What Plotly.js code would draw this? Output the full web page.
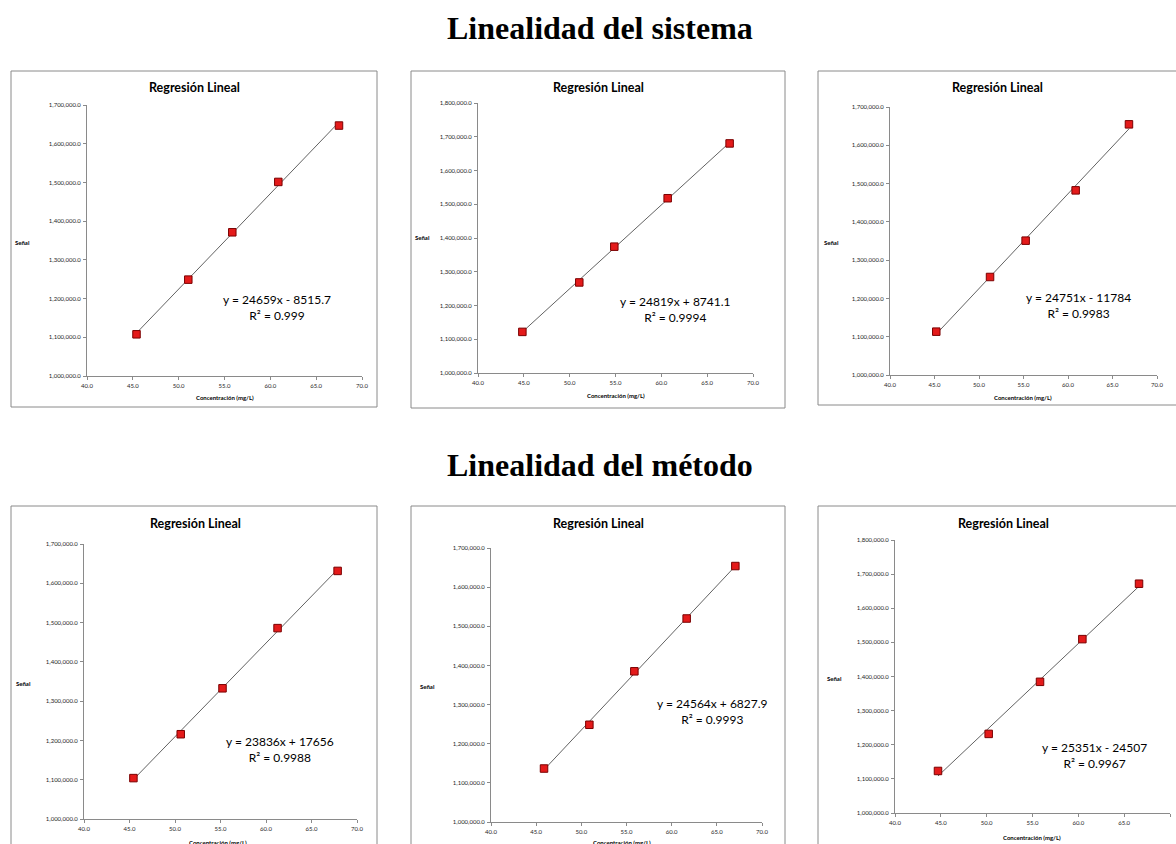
<!DOCTYPE html>
<html>
<head>
<meta charset="utf-8">
<script src="https://cdn.plot.ly/plotly-3.0.1.min.js"></script>
<style>
html,body{margin:0;padding:0;background:#fff;}
#chart{width:1176px;height:844px;}
</style>
</head>
<body>
<div id="chart"></div>
<script>
// ---- Data ----
const sistemaTitulo = "Linealidad del sistema";
const metodoTitulo = "Linealidad del método";
const tituloGrafico = "Regresión Lineal";
const ejeX = "Concentración (mg/L)";
const ejeY = "Señal";

const sistema1Conc = [45.4, 51.05, 55.85, 60.87, 67.49];
const sistema1Senal = [1107700, 1248900, 1371200, 1501300, 1646900];
const sistema2Conc = [44.84, 51.05, 54.87, 60.69, 67.45];
const sistema2Senal = [1121800, 1268300, 1374300, 1517800, 1680200];
const sistema3Conc = [45.2, 51.24, 55.24, 60.86, 66.85];
const sistema3Senal = [1113200, 1256000, 1350900, 1482300, 1654700];

const metodo1Conc = [45.43, 50.63, 55.22, 61.27, 67.87];
const metodo1Senal = [1104100, 1215800, 1332700, 1485900, 1631500];
const metodo2Conc = [45.87, 50.89, 55.87, 61.66, 67.05];
const metodo2Senal = [1136600, 1248400, 1385000, 1519900, 1653900];
const metodo3Conc = [44.69, 50.22, 55.82, 60.44, 66.62];
const metodo3Senal = [1123200, 1231800, 1384400, 1509500, 1671900];

const pendientes = [24659, 24819, 24751, 23836, 24564, 25351];
const interceptos = [-8515.7, 8741.1, -11784, 17656, 6827.9, -24507];
const r2 = ["0.999", "0.9994", "0.9983", "0.9988", "0.9993", "0.9967"];
const yMax = [1700000, 1800000, 1700000, 1700000, 1700000, 1800000];

// ---- Layout geometry (pixels) ----
const W = 1176, H = 844;
const px = v => v / W;
const py = v => 1 - v / H;

const panels = [
  {x: sistema1Conc, y: sistema1Senal, plot: [87, 362, 105, 376], box: [11, 377, 71, 407], title: [194, 88], senal: [22, 242], conc: [225, 398], eq: [277, 307]},
  {x: sistema2Conc, y: sistema2Senal, plot: [478, 753, 103, 373], box: [411, 785, 71, 408], title: [598, 88], senal: [422, 238], conc: [616, 395], eq: [675, 310]},
  {x: sistema3Conc, y: sistema3Senal, plot: [890, 1157, 107, 375], box: [818, 1190, 71, 405], title: [997, 88], senal: [831, 243], conc: [1023, 398], eq: [1078, 305]},
  {x: metodo1Conc, y: metodo1Senal, plot: [84, 357, 544, 819], box: [11, 377, 506, 860], title: [195, 523], senal: [24, 683], conc: [218, 842], eq: [280, 749]},
  {x: metodo2Conc, y: metodo2Senal, plot: [491, 762, 548, 822], box: [411, 785, 506, 860], title: [598, 523], senal: [427, 686], conc: [622, 842], eq: [712, 711]},
  {x: metodo3Conc, y: metodo3Senal, plot: [895, 1170, 540, 813], box: [818, 1190, 506, 860], title: [1004, 523], senal: [834, 678], conc: [1032, 837], eq: [1094, 755]}
];

const FONT = "Lato, 'Open Sans', sans-serif";
const traces = [];
const layout = {
  width: W, height: H,
  margin: {l: 0, r: 0, t: 0, b: 0},
  paper_bgcolor: "#ffffff",
  plot_bgcolor: "rgba(0,0,0,0)",
  showlegend: false,
  shapes: [],
  annotations: []
};

function fmtEq(m, b) {
  const sign = b < 0 ? " - " : " + ";
  return "y = " + m + "x" + sign + Math.abs(b);
}

panels.forEach((p, i) => {
  const n = i + 1;
  const xa = n === 1 ? "x" : "x" + n;
  const ya = n === 1 ? "y" : "y" + n;
  const xmin = Math.min(...p.x), xmax = Math.max(...p.x);
  // trendline
  traces.push({
    x: [xmin, xmax],
    y: [pendientes[i] * xmin + interceptos[i], pendientes[i] * xmax + interceptos[i]],
    xaxis: xa, yaxis: ya, mode: "lines", type: "scatter",
    line: {color: "#3a3a3a", width: 0.8}, hoverinfo: "skip"
  });
  // data points
  traces.push({
    x: p.x, y: p.y, xaxis: xa, yaxis: ya, mode: "markers", type: "scatter",
    marker: {symbol: "square", size: 7.5, color: "#e41a1a", line: {color: "#7a0000", width: 1}}
  });
  const axisCommon = {
    showgrid: false, zeroline: false, showline: true,
    linecolor: "#8a8a8a", linewidth: 1,
    ticks: "outside", ticklen: 3, tickcolor: "#8a8a8a", tickwidth: 1,
    tickfont: {family: FONT, size: 6, color: "#262626"},
    fixedrange: true
  };
  layout["xaxis" + (n === 1 ? "" : n)] = Object.assign({}, axisCommon, {
    domain: [px(p.plot[0]), px(p.plot[1])],
    range: [40, 70], dtick: 5, tick0: 40, tickformat: ".1f",
    anchor: ya, ticklabelstandoff: 1
  });
  layout["yaxis" + (n === 1 ? "" : n)] = Object.assign({}, axisCommon, {
    domain: [py(p.plot[3]), py(p.plot[2])],
    range: [1000000, yMax[i]], dtick: 100000, tick0: 1000000, tickformat: ",.1f",
    anchor: xa, ticklabelstandoff: 1
  });
  // panel border
  layout.shapes.push({
    type: "rect", xref: "paper", yref: "paper",
    x0: px(p.box[0]), x1: px(p.box[1]), y0: py(p.box[3]), y1: py(p.box[2]),
    line: {color: "#8a8a8a", width: 1}, fillcolor: "rgba(0,0,0,0)"
  });
  // title
  layout.annotations.push({
    text: "<b>" + tituloGrafico + "</b>", xref: "paper", yref: "paper",
    x: px(p.title[0]), y: py(p.title[1]), xanchor: "center", yanchor: "middle",
    showarrow: false, font: {family: FONT, size: 12.5, color: "#000"}
  });
  layout.annotations.push({
    text: "<b>" + ejeY + "</b>", xref: "paper", yref: "paper",
    x: px(p.senal[0]), y: py(p.senal[1]), xanchor: "center", yanchor: "middle",
    showarrow: false, font: {family: FONT, size: 6, color: "#000"}
  });
  layout.annotations.push({
    text: "<b>" + ejeX + "</b>", xref: "paper", yref: "paper",
    x: px(p.conc[0]), y: py(p.conc[1]), xanchor: "center", yanchor: "middle",
    showarrow: false, font: {family: FONT, size: 6, color: "#000"}
  });
  layout.annotations.push({
    text: fmtEq(pendientes[i], interceptos[i]) + "<br>R² = " + r2[i],
    xref: "paper", yref: "paper", align: "center",
    x: px(p.eq[0]), y: py(p.eq[1]), xanchor: "center", yanchor: "middle",
    showarrow: false, font: {family: FONT, size: 12, color: "#000"}
  });
});

// section headings
layout.annotations.push({
  text: "<b>" + sistemaTitulo + "</b>", xref: "paper", yref: "paper",
  x: px(600), y: py(28), xanchor: "center", yanchor: "middle", showarrow: false,
  font: {family: "'Liberation Serif', 'Times New Roman', serif", size: 32, color: "#000"}
});
layout.annotations.push({
  text: "<b>" + metodoTitulo + "</b>", xref: "paper", yref: "paper",
  x: px(600), y: py(465), xanchor: "center", yanchor: "middle", showarrow: false,
  font: {family: "'Liberation Serif', 'Times New Roman', serif", size: 32, color: "#000"}
});

Plotly.newPlot("chart", traces, layout, {staticPlot: true, displayModeBar: false});
</script>
</body>
</html>
